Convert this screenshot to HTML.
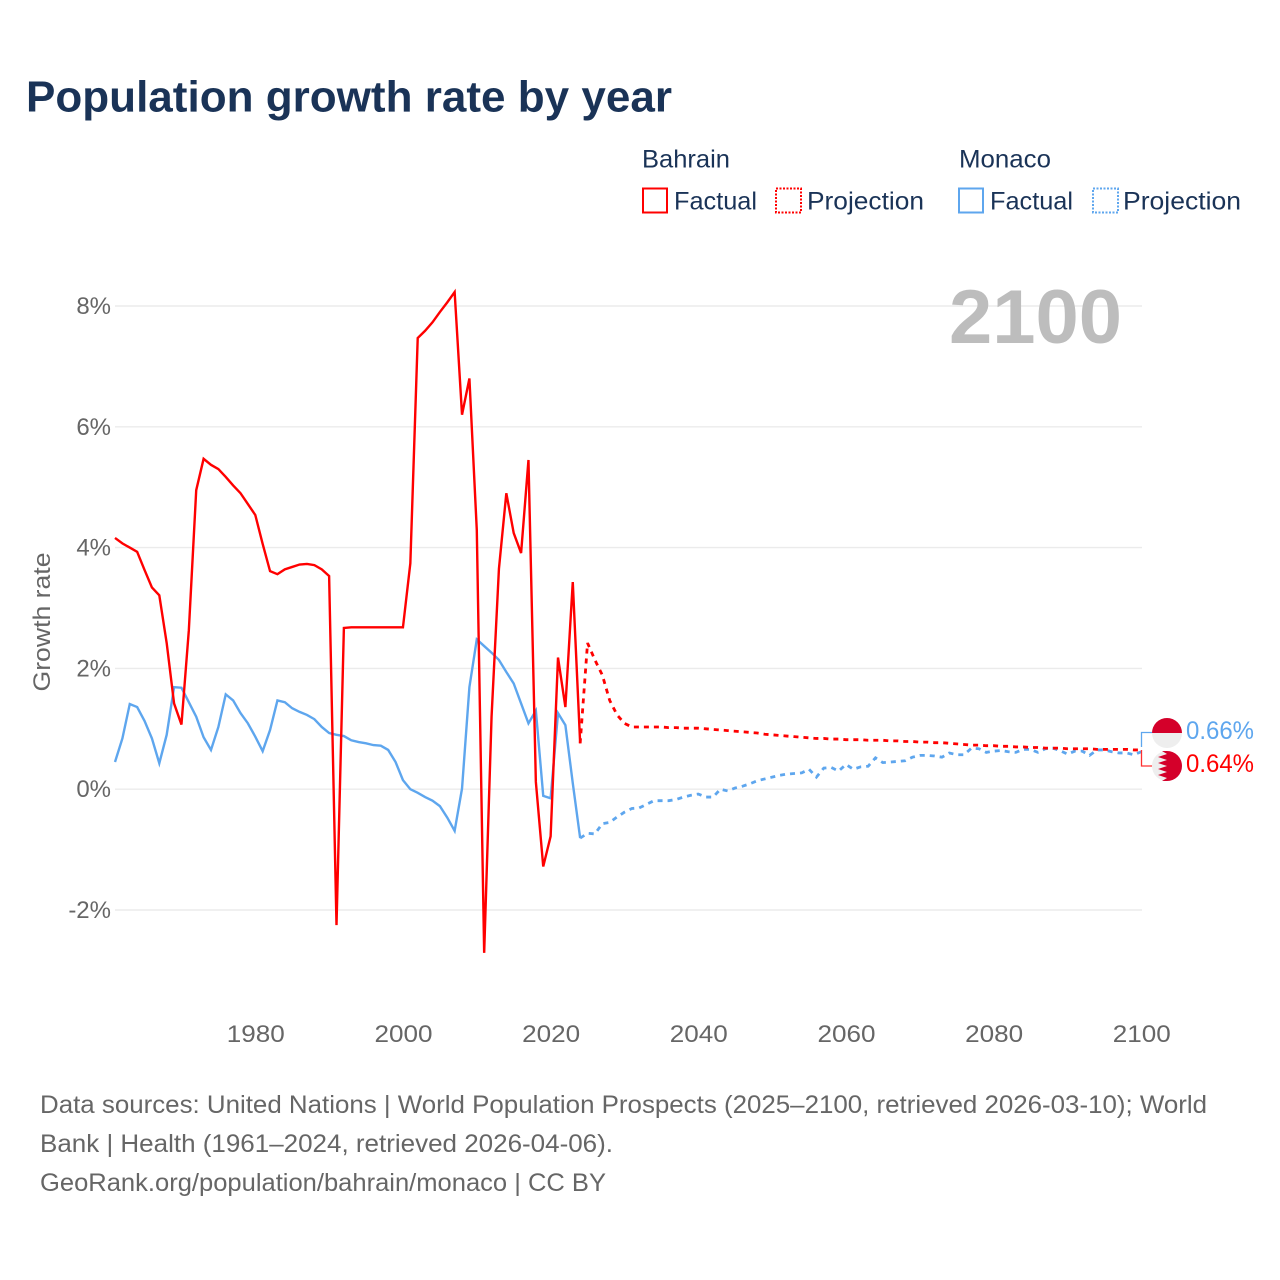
<!DOCTYPE html>
<html lang="en">
<head>
<meta charset="utf-8">
<title>Population growth rate by year</title>
<style>
html,body{margin:0;padding:0;background:#fff;width:1280px;height:1280px;overflow:hidden}
svg{display:block;font-family:"Liberation Sans",sans-serif}
</style>
</head>
<body>
<svg id="chart" xmlns="http://www.w3.org/2000/svg" width="1280" height="1280" viewBox="0 0 1280 1280">
  <rect width="1280" height="1280" fill="#fff"/>
  <text x="26" y="111.500" font-size="44" font-weight="700" fill="#1a3357" textLength="646" lengthAdjust="spacingAndGlyphs">Population growth rate by year</text>

  <g font-size="25" fill="#1a3357">
    <text x="642" y="167.500" textLength="88" lengthAdjust="spacingAndGlyphs">Bahrain</text>
    <rect x="643" y="188.500" width="24" height="24" fill="none" stroke="#ff0000" stroke-width="2"/>
    <text x="674" y="209.500" textLength="83" lengthAdjust="spacingAndGlyphs">Factual</text>
    <rect x="776" y="188.500" width="25" height="24" fill="none" stroke="#ff0000" stroke-width="2" stroke-dasharray="2 1.500"/>
    <text x="807" y="209.500" textLength="117" lengthAdjust="spacingAndGlyphs">Projection</text>
    <text x="959" y="167.500" textLength="92" lengthAdjust="spacingAndGlyphs">Monaco</text>
    <rect x="959" y="188.500" width="24" height="24" fill="none" stroke="#5ea6ee" stroke-width="2"/>
    <text x="990" y="209.500" textLength="83" lengthAdjust="spacingAndGlyphs">Factual</text>
    <rect x="1093" y="188.500" width="25" height="24" fill="none" stroke="#5ea6ee" stroke-width="2" stroke-dasharray="2 1.500"/>
    <text x="1123" y="209.500" textLength="118" lengthAdjust="spacingAndGlyphs">Projection</text>
  </g>

  <g id="grid"></g>
  <g id="y-labels"></g>
  <g id="x-labels"></g>
  <text transform="translate(50,622) rotate(-90)" text-anchor="middle" font-size="24" fill="#666" textLength="139" lengthAdjust="spacingAndGlyphs">Growth rate</text>
  <text x="949" y="343" font-size="76" font-weight="700" fill="#bdbdbd" textLength="173" lengthAdjust="spacingAndGlyphs">2100</text>

  <g id="series"></g>

  <path d="M1141.500 747V732.500H1152" fill="none" stroke="#5ea6ee" stroke-width="1.300"/>
  <path d="M1141.500 750V766H1152" fill="none" stroke="#ff3030" stroke-width="1.300"/>

  <g>
    <circle cx="1167" cy="733" r="15" fill="#eeeeee"/>
    <path d="M1152 733A15 15 0 0 1 1182 733Z" fill="#d4002a"/>
  </g>
  <g>
    <circle cx="1167" cy="766" r="15" fill="#eeeeee"/>
    <path d="M1167 751A15 15 0 0 1 1167 781L1162 781L1167 778L1158 775L1167 772L1158 769L1167 766L1158 763L1167 760L1158 757L1167 754L1162 751Z" fill="#d4002a"/>
  </g>
  <text x="1186" y="739" font-size="25" fill="#5ea6ee" textLength="68" lengthAdjust="spacingAndGlyphs">0.66%</text>
  <text x="1186" y="772" font-size="25" fill="#ff0000" textLength="68" lengthAdjust="spacingAndGlyphs">0.64%</text>

  <g font-size="25" fill="#666">
    <text x="40" y="1113" textLength="1167" lengthAdjust="spacingAndGlyphs">Data sources: United Nations | World Population Prospects (2025–2100, retrieved 2026-03-10); World</text>
    <text x="40" y="1152" textLength="573" lengthAdjust="spacingAndGlyphs">Bank | Health (1961–2024, retrieved 2026-04-06).</text>
    <text x="40" y="1191" textLength="566" lengthAdjust="spacingAndGlyphs">GeoRank.org/population/bahrain/monaco | CC BY</text>
  </g>
</svg>
<script>
const factualStartYear = 1961;
const projectionStartYear = 2025;
const xTicks = [1980, 2000, 2020, 2040, 2060, 2080, 2100];
const yTicks = [-2, 0, 2, 4, 6, 8];
const bahrainFactual = [
  4.16, 4.07, 4.00, 3.93, 3.63, 3.34, 3.21, 2.42, 1.42, 1.07,
  2.63, 4.95, 5.47, 5.37, 5.30, 5.17, 5.03, 4.90, 4.72, 4.54,
  4.06, 3.61, 3.56, 3.64, 3.68, 3.72, 3.73, 3.71, 3.64, 3.53,
  -2.25, 2.67, 2.68, 2.68, 2.68, 2.68, 2.68, 2.68, 2.68, 2.68,
  3.74, 7.47, 7.59, 7.73, 7.90, 8.06, 8.23, 6.20, 6.80, 4.29,
  -2.71, 1.20, 3.65, 4.90, 4.24, 3.91, 5.45, 0.12, -1.28, -0.78,
  2.18, 1.36, 3.43, 0.76
];
const monacoFactual = [
  0.45, 0.84, 1.41, 1.36, 1.13, 0.84, 0.43, 0.90, 1.69, 1.68,
  1.44, 1.20, 0.86, 0.65, 1.03, 1.57, 1.47, 1.26, 1.09, 0.87,
  0.63, 0.98, 1.47, 1.44, 1.34, 1.28, 1.23, 1.16, 1.03, 0.93,
  0.90, 0.88, 0.81, 0.78, 0.76, 0.73, 0.72, 0.65, 0.45, 0.15,
  0.00, -0.06, -0.13, -0.19, -0.28, -0.47, -0.69, 0.01, 1.69, 2.48,
  2.37, 2.26, 2.14, 1.94, 1.75, 1.42, 1.09, 1.30, -0.11, -0.15,
  1.26, 1.06, 0.10, -0.81
];
const bahrainProjection = [
  2.42, 2.14, 1.89, 1.47, 1.23, 1.09, 1.03, 1.03, 1.03, 1.03,
  1.03, 1.02, 1.02, 1.01, 1.01, 1.01, 1.00, 0.99, 0.98, 0.97,
  0.96, 0.95, 0.94, 0.93, 0.91, 0.90, 0.89, 0.88, 0.87, 0.86,
  0.85, 0.84, 0.84, 0.83, 0.83, 0.82, 0.82, 0.82, 0.81, 0.81,
  0.81, 0.80, 0.80, 0.79, 0.79, 0.78, 0.78, 0.77, 0.77, 0.76,
  0.75, 0.74, 0.73, 0.73, 0.72, 0.72, 0.71, 0.71, 0.70, 0.70,
  0.69, 0.69, 0.68, 0.68, 0.68, 0.67, 0.67, 0.67, 0.67, 0.66,
  0.66, 0.66, 0.66, 0.66, 0.65, 0.65
];
const monacoProjection = [
  -0.73, -0.74, -0.57, -0.55, -0.46, -0.38, -0.32, -0.31, -0.25, -0.19,
  -0.19, -0.19, -0.17, -0.13, -0.10, -0.08, -0.13, -0.13, 0.00, -0.03,
  0.02, 0.05, 0.09, 0.14, 0.17, 0.20, 0.23, 0.25, 0.26, 0.27,
  0.33, 0.20, 0.35, 0.36, 0.30, 0.41, 0.33, 0.37, 0.38, 0.52,
  0.44, 0.45, 0.46, 0.47, 0.53, 0.56, 0.56, 0.55, 0.53, 0.60,
  0.57, 0.57, 0.68, 0.67, 0.61, 0.63, 0.64, 0.62, 0.61, 0.66,
  0.66, 0.61, 0.67, 0.68, 0.64, 0.58, 0.63, 0.63, 0.56, 0.65,
  0.65, 0.62, 0.60, 0.60, 0.57, 0.62
];

const SVGNS = 'http://www.w3.org/2000/svg';
const plotLeft = 115, plotRight = 1141.3;
const yearMin = 1961, yearMax = 2100;
function xScale(year) {
  return plotLeft + (year - yearMin) * (plotRight - plotLeft) / (yearMax - yearMin);
}
function yScale(value) {
  return 789.2 - value * 60.4;
}
function make(tag) {
  return document.createElementNS(SVGNS, tag);
}
function pathFrom(points) {
  return points.map(function (p, i) {
    return (i ? 'L' : 'M') + xScale(p[0]).toFixed(2) + ' ' + yScale(p[1]).toFixed(2);
  }).join('');
}
function seriesPoints(startYear, values) {
  return values.map(function (v, i) { return [startYear + i, v]; });
}

const grid = document.getElementById('grid');
const yLabels = document.getElementById('y-labels');
yTicks.forEach(function (t) {
  const line = make('line');
  
  
  line.setAttribute('x1', plotLeft);
  line.setAttribute('x2', 1142);
  line.setAttribute('y1', yScale(t));
  line.setAttribute('y2', yScale(t));
  line.setAttribute('stroke', '#ebebeb');
  line.setAttribute('stroke-width', '1.400');
  grid.appendChild(line);
  const label = make('text');
  
  
  label.setAttribute('x', 111);
  label.setAttribute('y', yScale(t) + 8);
  label.setAttribute('text-anchor', 'end');
  label.setAttribute('font-size', '24');
  label.setAttribute('fill', '#666');
  label.textContent = t + '%';
  yLabels.appendChild(label);
});

const xLabels = document.getElementById('x-labels');
xTicks.forEach(function (t) {
  const label = make('text');
  
  
  label.setAttribute('x', xScale(t) + 0.5);
  label.setAttribute('y', 1042);
  label.setAttribute('text-anchor', 'middle');
  label.setAttribute('font-size', '24');
  label.setAttribute('fill', '#666');
  label.setAttribute('textLength', '58');
  label.setAttribute('lengthAdjust', 'spacingAndGlyphs');
  label.textContent = t;
  xLabels.appendChild(label);
});

const series = document.getElementById('series');
function drawLine(points, color, dashed, name) {
  const path = make('path');
  
  
  path.setAttribute('d', pathFrom(points));
  path.setAttribute('fill', 'none');
  path.setAttribute('stroke', color);
  path.setAttribute('stroke-width', dashed ? '2.800' : '2.400');
  if (dashed) path.setAttribute('stroke-dasharray', '5 5');
  series.appendChild(path);
}
const monacoFactualPts = seriesPoints(factualStartYear, monacoFactual);
const bahrainFactualPts = seriesPoints(factualStartYear, bahrainFactual);
const monacoProjPts = [monacoFactualPts[monacoFactualPts.length - 1]].concat(seriesPoints(projectionStartYear, monacoProjection));
const bahrainProjPts = [bahrainFactualPts[bahrainFactualPts.length - 1]].concat(seriesPoints(projectionStartYear, bahrainProjection));
drawLine(monacoFactualPts, '#5ea6ee', false, 'line-monaco-factual');
drawLine(monacoProjPts, '#5ea6ee', true, 'line-monaco-projection');
drawLine(bahrainFactualPts, '#ff0000', false, 'line-bahrain-factual');
drawLine(bahrainProjPts, '#ff0000', true, 'line-bahrain-projection');
</script>
</body>
</html>
